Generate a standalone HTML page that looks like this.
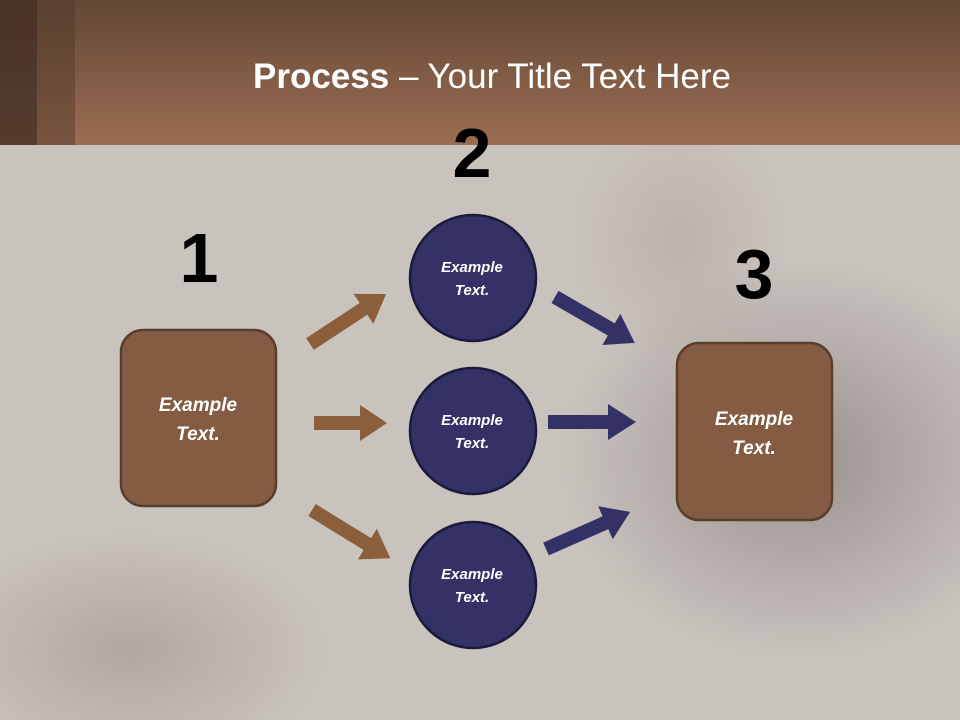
<!DOCTYPE html>
<html><head><meta charset="utf-8"><style>
html,body{margin:0;padding:0;width:960px;height:720px;overflow:hidden}
body{position:relative;font-family:"Liberation Sans",sans-serif;background:#c6bfba}
svg{display:block}
</style></head><body>
<svg width="960" height="720" viewBox="0 0 960 720" style="position:absolute;left:0;top:0">
<defs>
<linearGradient id="hd" x1="0" y1="0" x2="0" y2="1"><stop offset="0" stop-color="#634836"/><stop offset="1" stop-color="#9b6d53"/></linearGradient>
<radialGradient id="suit" cx="0.5" cy="0.5" r="0.5"><stop offset="0" stop-color="#8f8583" stop-opacity="0.8"/><stop offset="1" stop-color="#8f8583" stop-opacity="0"/></radialGradient>
<radialGradient id="pod" cx="0.5" cy="0.5" r="0.5"><stop offset="0" stop-color="#a3958b" stop-opacity="0.6"/><stop offset="1" stop-color="#a3958b" stop-opacity="0"/></radialGradient>
<radialGradient id="face" cx="0.5" cy="0.5" r="0.5"><stop offset="0" stop-color="#b5a8a0" stop-opacity="0.6"/><stop offset="1" stop-color="#b5a8a0" stop-opacity="0"/></radialGradient>
</defs>
<rect width="960" height="720" fill="#c9c3be"/>
<ellipse cx="800" cy="460" rx="240" ry="200" fill="url(#suit)"/>
<ellipse cx="680" cy="240" rx="110" ry="130" fill="url(#face)"/>
<ellipse cx="130" cy="650" rx="200" ry="120" fill="url(#pod)"/>
<rect x="0" y="0" width="960" height="145" fill="url(#hd)"/>
<rect x="0" y="0" width="37" height="145" fill="#3f2c21" opacity="0.75"/>
<rect x="37" y="0" width="38" height="145" fill="#4e3727" opacity="0.45"/>
<text x="492" y="88" text-anchor="middle" font-family="Liberation Sans, sans-serif" font-size="35" fill="#fff"><tspan font-weight="bold">Process</tspan> – Your Title Text Here</text>

<g fill="#8b5e3c">
<g transform="translate(310,344) rotate(-33.3)"><rect x="0" y="-7" width="66" height="14"/><polygon points="64,-18 91,0 64,18"/></g>
<g transform="translate(314,423)"><rect x="0" y="-7" width="48" height="14"/><polygon points="46,-18 73,0 46,18"/></g>
<g transform="translate(312,510) rotate(31.6)"><rect x="0" y="-7" width="67" height="14"/><polygon points="65,-18 92,0 65,18"/></g>
</g>
<g fill="#343166">
<g transform="translate(555,297) rotate(29.9)"><rect x="0" y="-7" width="67" height="14"/><polygon points="65,-18 92,0 65,18"/></g>
<g transform="translate(548,422)"><rect x="0" y="-7" width="62" height="14"/><polygon points="60,-18 88,0 60,18"/></g>
<g transform="translate(546,549) rotate(-23.8)"><rect x="0" y="-7" width="67" height="14"/><polygon points="65,-18 92,0 65,18"/></g>
</g>

<rect x="121" y="330" width="155" height="176" rx="22" fill="#845c43" stroke="#5a3e2c" stroke-width="2.5"/>
<rect x="677" y="343" width="155" height="177" rx="22" fill="#845c43" stroke="#5a3e2c" stroke-width="2.5"/>
<g fill="#343166" stroke="#1c1a3a" stroke-width="2.5">
<circle cx="473" cy="278" r="63"/><circle cx="473" cy="431" r="63"/><circle cx="473" cy="585" r="63"/>
</g>
<g font-family="Liberation Sans, sans-serif" font-weight="bold" font-style="italic" fill="#fff" text-anchor="middle">
<text x="198" y="411" font-size="19">Example</text><text x="198" y="440" font-size="19">Text.</text>
<text x="754" y="425" font-size="19">Example</text><text x="754" y="454" font-size="19">Text.</text>
<text x="472" y="272" font-size="15">Example</text><text x="472" y="295" font-size="15">Text.</text>
<text x="472" y="425" font-size="15">Example</text><text x="472" y="448" font-size="15">Text.</text>
<text x="472" y="579" font-size="15">Example</text><text x="472" y="602" font-size="15">Text.</text>
</g>
<g font-family="Liberation Sans, sans-serif" font-weight="bold" fill="#000" text-anchor="middle" font-size="70">
<text x="199" y="282">1</text>
<text x="472" y="177">2</text>
<text x="754" y="298">3</text>
</g>
</svg>
</body></html>
